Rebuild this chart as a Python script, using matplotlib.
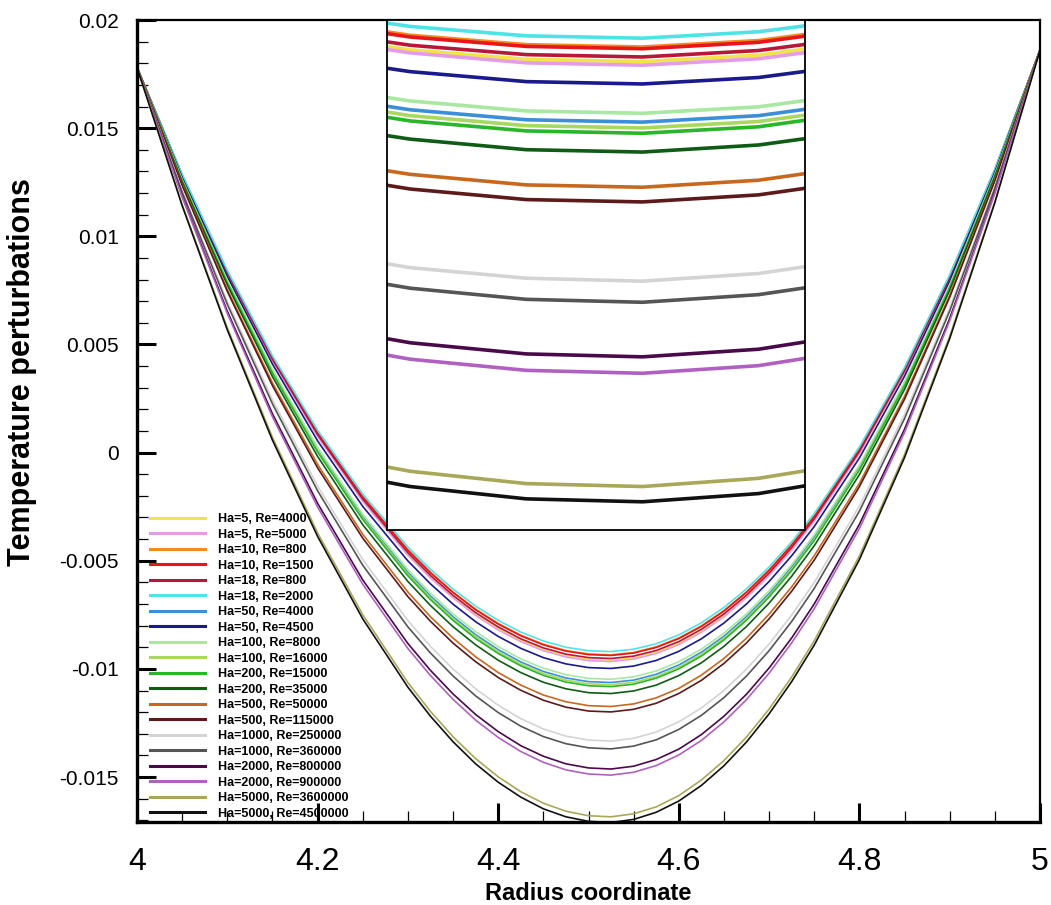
import numpy as np
import matplotlib
matplotlib.use('Agg')
import matplotlib.pyplot as plt
from matplotlib.ticker import MultipleLocator, FuncFormatter

plt.rcParams['font.family'] = ['Liberation Sans', 'DejaVu Sans']
plt.rcParams['axes.unicode_minus'] = False

radius = [4.0, 4.05, 4.1, 4.15, 4.2, 4.25, 4.3, 4.325, 4.35, 4.375, 4.4, 4.425, 4.45, 4.475, 4.5,
          4.525, 4.55, 4.575, 4.6, 4.625, 4.65, 4.675, 4.7, 4.725, 4.75, 4.8, 4.85, 4.9, 4.95, 5.0]

# temperature perturbations, in units of 1e-3
ha5_re4000 = [17.80, 12.78, 8.28, 4.27, 0.78, -2.21, -4.70, -5.75, -6.67, -7.47, -8.14, -8.68, -9.10, -9.40, -9.56,
              -9.60, -9.49, -9.23, -8.82, -8.25, -7.53, -6.66, -5.64, -4.46, -3.13, 0.00, 3.73, 8.07, 13.03, 18.60]
ha5_re5000 = [17.80, 12.77, 8.26, 4.24, 0.74, -2.26, -4.75, -5.80, -6.72, -7.53, -8.20, -8.74, -9.16, -9.45, -9.62,
              -9.66, -9.55, -9.29, -8.88, -8.31, -7.59, -6.71, -5.69, -4.51, -3.17, -0.04, 3.70, 8.05, 13.02, 18.60]
ha10_re800 = [17.80, 12.83, 8.36, 4.40, 0.93, -2.03, -4.49, -5.53, -6.45, -7.24, -7.90, -8.44, -8.86, -9.15, -9.31,
              -9.35, -9.24, -8.98, -8.57, -8.01, -7.30, -6.44, -5.42, -4.25, -2.93, 0.16, 3.86, 8.17, 13.08, 18.60]
ha10_re1500 = [17.80, 12.82, 8.35, 4.38, 0.91, -2.05, -4.52, -5.56, -6.47, -7.27, -7.93, -8.47, -8.89, -9.18, -9.34,
               -9.38, -9.27, -9.01, -8.60, -8.04, -7.33, -6.46, -5.45, -4.28, -2.96, 0.14, 3.85, 8.16, 13.07, 18.60]
ha18_re800 = [17.80, 12.80, 8.30, 4.31, 0.83, -2.15, -4.63, -5.68, -6.60, -7.40, -8.06, -8.61, -9.03, -9.32, -9.48,
              -9.52, -9.41, -9.15, -8.74, -8.17, -7.46, -6.59, -5.57, -4.39, -3.06, 0.05, 3.77, 8.10, 13.05, 18.60]
ha18_re2000 = [17.80, 12.86, 8.42, 4.47, 1.03, -1.92, -4.37, -5.40, -6.31, -7.10, -7.76, -8.30, -8.71, -9.00, -9.16,
               -9.20, -9.09, -8.84, -8.43, -7.87, -7.16, -6.30, -5.29, -4.13, -2.82, 0.26, 3.94, 8.22, 13.11, 18.60]
ha50_re4000 = [17.80, 12.59, 7.92, 3.76, 0.14, -2.97, -5.54, -6.63, -7.59, -8.42, -9.11, -9.68, -10.12, -10.42, -10.59,
               -10.63, -10.52, -10.25, -9.82, -9.23, -8.49, -7.58, -6.52, -5.30, -3.92, -0.68, 3.19, 7.69, 12.83, 18.60]
ha50_re4500 = [17.80, 12.71, 8.14, 4.09, 0.54, -2.49, -5.01, -6.07, -7.01, -7.82, -8.50, -9.05, -9.48, -9.77, -9.94,
               -9.98, -9.87, -9.61, -9.19, -8.61, -7.88, -7.00, -5.96, -4.77, -3.42, -0.25, 3.53, 7.93, 12.96, 18.60]
ha100_re8000 = [17.80, 12.62, 7.97, 3.84, 0.23, -2.86, -5.42, -6.50, -7.46, -8.28, -8.97, -9.54, -9.97, -10.27, -10.44,
                -10.48, -10.37, -10.10, -9.67, -9.09, -8.35, -7.45, -6.39, -5.18, -3.80, -0.58, 3.27, 7.75, 12.86, 18.60]
ha100_re16000 = [17.80, 12.58, 7.88, 3.72, 0.07, -3.04, -5.62, -6.72, -7.68, -8.51, -9.21, -9.78, -10.21, -10.52, -10.69,
                 -10.73, -10.62, -10.35, -9.92, -9.33, -8.58, -7.67, -6.61, -5.38, -4.00, -0.75, 3.13, 7.65, 12.81, 18.60]
ha200_re15000 = [17.80, 12.56, 7.85, 3.67, 0.02, -3.10, -5.70, -6.80, -7.76, -8.60, -9.29, -9.86, -10.30, -10.61, -10.78,
                 -10.82, -10.71, -10.43, -10.00, -9.41, -8.66, -7.75, -6.68, -5.45, -4.07, -0.81, 3.09, 7.62, 12.79, 18.60]
ha200_re35000 = [17.80, 12.50, 7.74, 3.51, -0.18, -3.34, -5.96, -7.07, -8.05, -8.89, -9.60, -10.17, -10.62, -10.92, -11.10,
                 -11.14, -11.02, -10.75, -10.31, -9.72, -8.96, -8.04, -6.96, -5.72, -4.31, -1.02, 2.92, 7.50, 12.73, 18.60]
ha500_re50000 = [17.80, 12.39, 7.53, 3.22, -0.55, -3.78, -6.45, -7.59, -8.58, -9.44, -10.17, -10.75, -11.21, -11.52, -11.70,
                 -11.74, -11.62, -11.34, -10.90, -10.29, -9.52, -8.58, -7.47, -6.21, -4.77, -1.42, 2.60, 7.27, 12.61, 18.60]
ha500_re115000 = [17.80, 12.35, 7.45, 3.09, -0.71, -3.96, -6.66, -7.80, -8.81, -9.67, -10.40, -10.99, -11.45, -11.77, -11.95,
                  -11.99, -11.87, -11.59, -11.14, -10.53, -9.75, -8.80, -7.69, -6.41, -4.97, -1.58, 2.47, 7.18, 12.56, 18.60]
ha1000_re250000 = [17.80, 12.10, 6.98, 2.43, -1.55, -4.95, -7.77, -8.96, -10.01, -10.92, -11.68, -12.30, -12.78, -13.11, -13.29,
                   -13.34, -13.21, -12.92, -12.45, -11.81, -11.00, -10.01, -8.85, -7.51, -6.01, -2.47, 1.76, 6.68, 12.29, 18.60]
ha1000_re360000 = [17.80, 12.03, 6.85, 2.25, -1.77, -5.21, -8.06, -9.27, -10.33, -11.25, -12.02, -12.65, -13.13, -13.46, -13.65,
                   -13.70, -13.57, -13.28, -12.80, -12.15, -11.33, -10.33, -9.16, -7.81, -6.28, -2.71, 1.57, 6.54, 12.22, 18.60]
ha2000_re800000 = [17.80, 11.86, 6.53, 1.79, -2.35, -5.89, -8.83, -10.07, -11.16, -12.11, -12.90, -13.55, -14.04, -14.39, -14.58,
                   -14.63, -14.50, -14.19, -13.71, -13.04, -12.19, -11.17, -9.96, -8.57, -7.00, -3.32, 1.08, 6.20, 12.04, 18.60]
ha2000_re900000 = [17.80, 11.81, 6.43, 1.65, -2.52, -6.09, -9.06, -10.31, -11.41, -12.37, -13.17, -13.82, -14.32, -14.67, -14.86,
                   -14.91, -14.78, -14.47, -13.98, -13.31, -12.45, -11.42, -10.20, -8.80, -7.22, -3.51, 0.93, 6.09, 11.98, 18.60]
ha5000_re3600000 = [17.80, 11.46, 5.76, 0.70, -3.72, -7.50, -10.64, -11.97, -13.14, -14.15, -14.99, -15.68, -16.21, -16.58, -16.79,
                    -16.84, -16.70, -16.38, -15.86, -15.14, -14.24, -13.15, -11.86, -10.38, -8.70, -4.78, -0.09, 5.37, 11.60, 18.60]
ha5000_re4500000 = [17.80, 11.41, 5.67, 0.57, -3.88, -7.69, -10.85, -12.19, -13.37, -14.39, -15.24, -15.93, -16.47, -16.84, -17.05,
                    -17.10, -16.96, -16.63, -16.11, -15.39, -14.48, -13.38, -12.08, -10.59, -8.90, -4.95, -0.23, 5.27, 11.55, 18.60]

series = [ha5_re4000, ha5_re5000, ha10_re800, ha10_re1500, ha18_re800, ha18_re2000,
          ha50_re4000, ha50_re4500, ha100_re8000, ha100_re16000, ha200_re15000, ha200_re35000,
          ha500_re50000, ha500_re115000, ha1000_re250000, ha1000_re360000,
          ha2000_re800000, ha2000_re900000, ha5000_re3600000, ha5000_re4500000]

labels = ['Ha=5, Re=4000', 'Ha=5, Re=5000', 'Ha=10, Re=800', 'Ha=10, Re=1500',
          'Ha=18, Re=800', 'Ha=18, Re=2000', 'Ha=50, Re=4000', 'Ha=50, Re=4500',
          'Ha=100, Re=8000', 'Ha=100, Re=16000', 'Ha=200, Re=15000', 'Ha=200, Re=35000',
          'Ha=500, Re=50000', 'Ha=500, Re=115000', 'Ha=1000, Re=250000', 'Ha=1000, Re=360000',
          'Ha=2000, Re=800000', 'Ha=2000, Re=900000', 'Ha=5000, Re=3600000', 'Ha=5000, Re=4500000']

colors = ['#f2e34b', '#e59be6', '#f28a1e', '#e8161b', '#b8163a', '#4fe3e8',
          '#3b8fd9', '#1a1a8c', '#a8e8a0', '#a8d860', '#2ab52a', '#0f5c14',
          '#c8681e', '#5e1a1a', '#d4d4d4', '#555555', '#4a0a4a', '#b060c0',
          '#a8a858', '#111111']

x = np.array(radius)

fig = plt.figure(figsize=(10.51, 9.05), dpi=100)
ax = fig.add_axes([0.1304, 0.0917, 0.8591, 0.8862])

for y, lab, c in zip(series, labels, colors):
    ax.plot(x, np.array(y) * 1e-3, color=c, lw=1.2, label=lab)

ax.set_xlim(4, 5)
ax.set_ylim(-0.01708, 0.02)
ax.xaxis.set_major_locator(MultipleLocator(0.2))
ax.xaxis.set_minor_locator(MultipleLocator(0.05))
ax.yaxis.set_major_locator(MultipleLocator(0.005))
ax.yaxis.set_minor_locator(MultipleLocator(0.001))
fmt = FuncFormatter(lambda v, p: '%g' % round(v, 6))
ax.xaxis.set_major_formatter(fmt)
ax.yaxis.set_major_formatter(fmt)

ax.tick_params(which='major', direction='in', length=14, width=2.2, top=False, right=False)
ax.tick_params(which='minor', direction='in', length=8, width=0.9, top=False, right=False)
ax.tick_params(axis='y', labelsize=15, pad=13)
ax.tick_params(axis='x', labelsize=23, pad=18)
for side in ['left', 'bottom']:
    ax.spines[side].set_linewidth(2.4)
for side in ['top', 'right']:
    ax.spines[side].set_linewidth(1.6)

fig.text(22 / 1051, 1 - 372 / 905, 'Temperature perturbations', rotation=90,
         ha='center', va='center', fontsize=22, fontweight='bold')
fig.text(588 / 1051, 1 - 893 / 905, 'Radius coordinate',
         ha='center', va='center', fontsize=17, fontweight='bold')

leg = ax.legend(loc='lower left', bbox_to_anchor=(0.0144, 0.003), frameon=False,
                prop={'weight': 'bold', 'size': 9},
                handlelength=4.4, handletextpad=1.0, labelspacing=0.28,
                borderpad=0, borderaxespad=0)
for h in leg.get_lines():
    h.set_linewidth(2.2)

# zoomed view of the minimum
axins = fig.add_axes([0.3682, 0.4144, 0.3977, 0.5635])
for y, c in zip(series, colors):
    axins.plot(x, np.array(y) * 1e-3, color=c, lw=2.6)
axins.set_xlim(4.47, 4.56)
axins.set_ylim(-0.01758, -0.00889)
axins.set_xticks([])
axins.set_yticks([])
for s in axins.spines.values():
    s.set_linewidth(1.3)

fig.savefig('out.png', dpi=100)
